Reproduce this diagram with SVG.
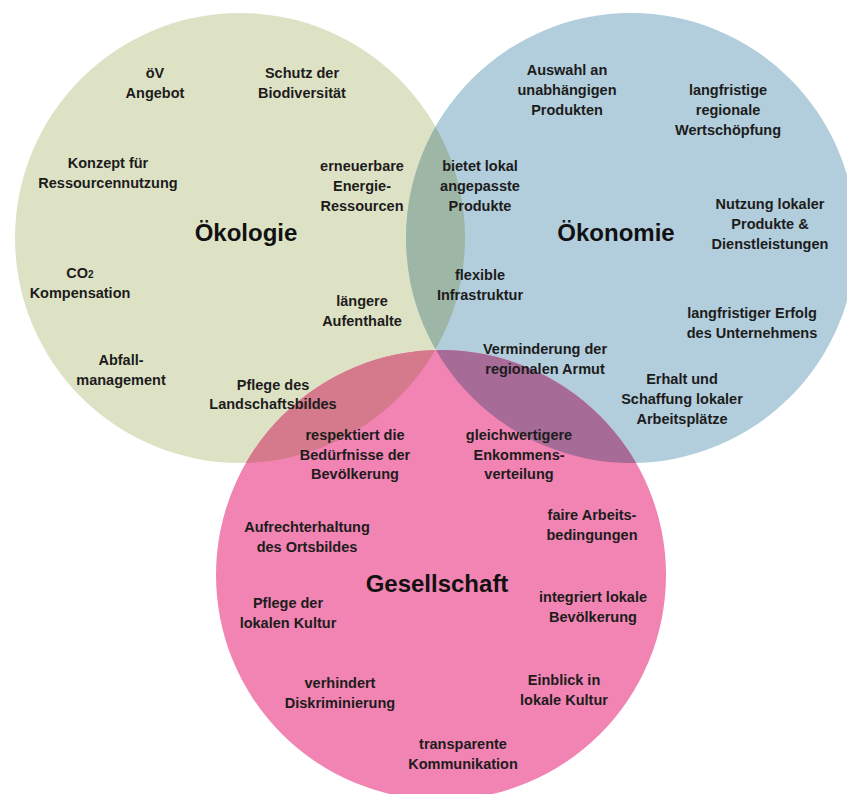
<svg xmlns="http://www.w3.org/2000/svg" width="847" height="794" viewBox="0 0 847 794">
  <style>
    .lbl { font-family: "Liberation Sans", Arial, sans-serif; font-weight: bold; font-size: 14.5px; fill: #1c1c1c; text-anchor: middle; }
    .ttl { font-family: "Liberation Sans", Arial, sans-serif; font-weight: bold; font-size: 24px; fill: #111; text-anchor: middle; }
  </style>
  <defs>
    <clipPath id="clipOeko"><circle cx="240" cy="238" r="225"/></clipPath>
    <clipPath id="clipOekon"><circle cx="631" cy="238" r="225"/></clipPath>
    <clipPath id="clipGes"><circle cx="441" cy="575" r="225"/></clipPath>
  </defs>
  <rect width="847" height="794" fill="#ffffff"/>

  <!-- three sets -->
  <g id="circles">
    <circle id="set-oekologie" cx="240" cy="238" r="225" fill="#dee2c5"/>
    <circle id="set-oekonomie" cx="631" cy="238" r="225" fill="#b2cddb"/>
    <circle id="set-gesellschaft" cx="441" cy="575" r="225" fill="#f184b2"/>
    <!-- pairwise overlaps -->
    <circle cx="631" cy="238" r="225" fill="#9eb6a6" clip-path="url(#clipOeko)"/>
    <circle cx="441" cy="575" r="225" fill="#d5798c" clip-path="url(#clipOeko)"/>
    <circle cx="441" cy="575" r="225" fill="#a66b97" clip-path="url(#clipOekon)"/>
    <!-- centre where all three meet -->
    <g clip-path="url(#clipOeko)">
      <circle cx="441" cy="575" r="225" fill="#f184b2" clip-path="url(#clipOekon)"/>
    </g>
  </g>

  <!-- Ökologie -->
  <g id="oekologie">
    <text class="ttl" x="246" y="241">Ökologie</text>
    <text class="lbl" x="155" y="78">öV<tspan x="155" dy="20">Angebot</tspan></text>
    <text class="lbl" x="302" y="78">Schutz der<tspan x="302" dy="20">Biodiversität</tspan></text>
    <text class="lbl" x="108" y="168">Konzept für<tspan x="108" dy="20">Ressourcennutzung</tspan></text>
    <text class="lbl" x="362" y="171">erneuerbare<tspan x="362" dy="20">Energie-</tspan><tspan x="362" dy="20">Ressourcen</tspan></text>
    <text class="lbl" x="80" y="278">CO<tspan font-size="10">2</tspan><tspan x="80" dy="20">Kompensation</tspan></text>
    <text class="lbl" x="362" y="306">längere<tspan x="362" dy="20">Aufenthalte</tspan></text>
    <text class="lbl" x="121" y="365">Abfall-<tspan x="121" dy="20">management</tspan></text>
    <text class="lbl" x="273" y="390">Pflege des<tspan x="273" dy="19">Landschaftsbildes</tspan></text>
  </g>

  <!-- Ökologie ∩ Ökonomie -->
  <g id="oekologie-oekonomie">
    <text class="lbl" x="480" y="171">bietet lokal<tspan x="480" dy="20">angepasste</tspan><tspan x="480" dy="20">Produkte</tspan></text>
    <text class="lbl" x="480" y="280">flexible<tspan x="480" dy="20">Infrastruktur</tspan></text>
  </g>

  <!-- Ökonomie -->
  <g id="oekonomie">
    <text class="ttl" x="616" y="241">Ökonomie</text>
    <text class="lbl" x="567" y="75">Auswahl an<tspan x="567" dy="20">unabhängigen</tspan><tspan x="567" dy="20">Produkten</tspan></text>
    <text class="lbl" x="728" y="95">langfristige<tspan x="728" dy="20">regionale</tspan><tspan x="728" dy="20">Wertschöpfung</tspan></text>
    <text class="lbl" x="770" y="209">Nutzung lokaler<tspan x="770" dy="20">Produkte &amp;</tspan><tspan x="770" dy="20">Dienstleistungen</tspan></text>
    <text class="lbl" x="752" y="318">langfristiger Erfolg<tspan x="752" dy="20">des Unternehmens</tspan></text>
    <text class="lbl" x="682" y="384">Erhalt und<tspan x="682" dy="20">Schaffung lokaler</tspan><tspan x="682" dy="20">Arbeitsplätze</tspan></text>
  </g>

  <!-- Ökonomie ∩ Gesellschaft -->
  <g id="oekonomie-gesellschaft">
    <text class="lbl" x="545" y="354">Verminderung der<tspan x="545" dy="20">regionalen Armut</tspan></text>
    <text class="lbl" x="519" y="440">gleichwertigere<tspan x="519" dy="20">Enkommens-</tspan><tspan x="519" dy="19">verteilung</tspan></text>
  </g>

  <!-- Ökologie ∩ Gesellschaft -->
  <g id="oekologie-gesellschaft">
    <text class="lbl" x="355" y="440">respektiert die<tspan x="355" dy="20">Bedürfnisse der</tspan><tspan x="355" dy="19">Bevölkerung</tspan></text>
  </g>

  <!-- Gesellschaft -->
  <g id="gesellschaft">
    <text class="ttl" x="437" y="592">Gesellschaft</text>
    <text class="lbl" x="592" y="520">faire Arbeits-<tspan x="592" dy="20">bedingungen</tspan></text>
    <text class="lbl" x="307" y="532">Aufrechterhaltung<tspan x="307" dy="20">des Ortsbildes</tspan></text>
    <text class="lbl" x="288" y="608">Pflege der<tspan x="288" dy="20">lokalen Kultur</tspan></text>
    <text class="lbl" x="593" y="602">integriert lokale<tspan x="593" dy="20">Bevölkerung</tspan></text>
    <text class="lbl" x="340" y="688">verhindert<tspan x="340" dy="20">Diskriminierung</tspan></text>
    <text class="lbl" x="564" y="685">Einblick in<tspan x="564" dy="20">lokale Kultur</tspan></text>
    <text class="lbl" x="463" y="749">transparente<tspan x="463" dy="20">Kommunikation</tspan></text>
  </g>
</svg>
